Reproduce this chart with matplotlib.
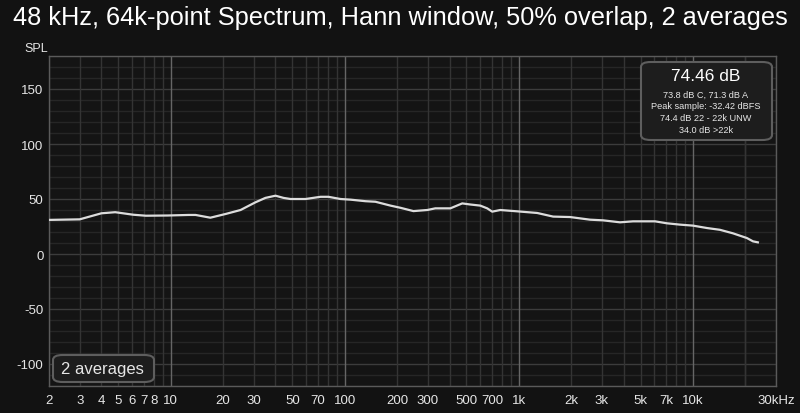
import matplotlib
matplotlib.use("Agg")
import matplotlib.pyplot as plt
from matplotlib.patches import FancyBboxPatch
import numpy as np

plt.rcParams['font.family'] = ['Liberation Sans', 'DejaVu Sans']
plt.rcParams['axes.unicode_minus'] = False

title = "48 kHz, 64k-point Spectrum, Hann window, 50% overlap, 2 averages"
freq_hz = [2.0, 3.0, 4.0, 4.8, 6.1, 7.2, 9.6, 12.7, 13.9, 16.9, 20.7, 25.2, 30.7, 35, 40,
           44.5, 48.8, 59.5, 72.6, 80.5, 94.5, 108, 131.5, 150, 183, 209, 248, 298, 331,
           404, 473, 526, 600, 658, 703, 782, 977, 1274, 1574, 1968, 2565, 3048, 3811,
           4529, 6053, 7096, 8433, 10000, 12050, 14290, 16980, 20420, 22130, 23600]
spl_db = [31, 31.5, 37, 38, 35.7, 34.8, 35, 35.5, 35.5, 33, 36.4, 40, 47, 51, 53,
          51, 50, 50, 52, 52, 50, 49.4, 48, 47.5, 44, 42, 39, 40, 41.5,
          41.5, 46, 45, 44, 41.5, 38.5, 40, 38.8, 37.3, 34, 33.6, 31.2, 30.6, 28.8,
          29.7, 29.7, 27.9, 26.7, 25.8, 23.6, 22, 18.8, 14.5, 11.5, 10.6]
x_tick_vals = [2, 3, 4, 5, 6, 7, 8, 10, 20, 30, 50, 70, 100, 200, 300, 500, 700,
               1000, 2000, 3000, 5000, 7000, 10000, 30000]
x_tick_labels = ["2", "3", "4", "5", "6", "7", "8", "10", "20", "30", "50", "70", "100",
                 "200", "300", "500", "700", "1k", "2k", "3k", "5k", "7k", "10k", "30kHz"]
y_tick_vals = [-100, -50, 0, 50, 100, 150]
info_main = "74.46 dB"
info_lines = ["73.8 dB C, 71.3 dB A", "Peak sample: -32.42 dBFS",
              "74.4 dB 22 - 22k UNW", "34.0 dB >22k"]
avg_label = "2 averages"

fig = plt.figure(figsize=(8, 4.14), dpi=100, facecolor='#121212')
ax = fig.add_axes([49/800, 27/414, 727/800, 330/414])
ax.set_facecolor('#141414')
ax.set_xscale('log')
ax.set_xlim(2, 30000)
ax.set_ylim(-120, 180)

# grid
for dec in [1, 10, 100, 1000, 10000]:
    for m in range(1, 10):
        f = dec * m
        if f < 2 or f > 30000:
            continue
        c = '#666666' if m == 1 else '#343434'
        ax.axvline(f, color=c, lw=1.0, zorder=1)
ax.axvline(20000, color='#343434', lw=1.0, zorder=1)
for v in range(-120, 181, 10):
    c = '#3c3c3c' if v % 50 == 0 else '#262626'
    ax.axhline(v, color=c, lw=1.0, zorder=0.9)

ax.plot(freq_hz, spl_db, color='#dcdcdc', lw=1.6, zorder=3, solid_joinstyle='round')

ax.set_xticks(x_tick_vals)
ax.set_xticklabels(x_tick_labels)
ax.xaxis.set_minor_locator(matplotlib.ticker.NullLocator())
ax.set_yticks(y_tick_vals)
ax.tick_params(axis='both', length=0, colors='#e6e6e6', labelsize=9.5, pad=6)
ax.tick_params(axis='y', pad=4)
for s in ax.spines.values():
    s.set_color('#5a5a5a')
    s.set_linewidth(1.0)

fig.text(0.5, 1 - 18/414, title, ha='center', va='center', color='white', fontsize=18.3)
fig.text(36/800, 1 - 49/414, "SPL", ha='center', va='center', color='#e6e6e6', fontsize=9)

# info box
box = FancyBboxPatch((641/800, 1 - 141/414), 131/800, 78/414,
                     boxstyle="round,pad=0,rounding_size=0.012",
                     transform=fig.transFigure, facecolor='#1d1d1d',
                     edgecolor='#5e5e5e', lw=1.5, zorder=5)
fig.patches.append(box)
fig.text(706/800, 1 - 77/414, info_main, ha='center', va='center', color='white',
         fontsize=12.5, zorder=6)
for i, t in enumerate(info_lines):
    fig.text(706/800, 1 - (95 + i * 11.7)/414, t, ha='center', va='center',
             color='#e6e6e6', fontsize=6.6, zorder=6)

box2 = FancyBboxPatch((53/800, 1 - 383/414), 101/800, 27/414,
                      boxstyle="round,pad=0,rounding_size=0.012",
                      transform=fig.transFigure, facecolor='#1d1d1d',
                      edgecolor='#5e5e5e', lw=1.5, zorder=5)
fig.patches.append(box2)
fig.text(61/800, 1 - 370/414, avg_label, ha='left', va='center', color='#e6e6e6',
         fontsize=12, zorder=6)

fig.savefig("out.png", dpi=100, facecolor=fig.get_facecolor())
